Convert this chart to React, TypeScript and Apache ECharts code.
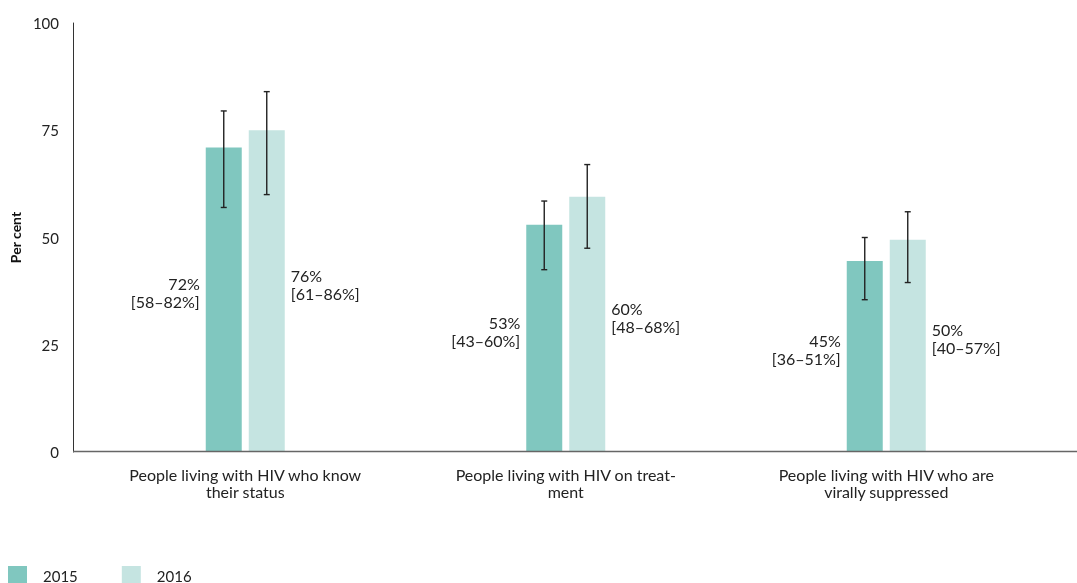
import React, { useEffect, useRef } from "react";
import * as echarts from "echarts";

const categories = [
  "People living with HIV who know\ntheir status",
  "People living with HIV on treat-\nment",
  "People living with HIV who are\nvirally suppressed",
];
const yTicks = [0, 25, 50, 75, 100];
// bar heights as drawn
const bars2015 = [71, 53, 44.5];
const bars2016 = [75, 59.5, 49.5];
// error bar ends as drawn
const err2015Low = [57, 42.5, 35.5];
const err2015High = [79.5, 58.5, 50];
const err2016Low = [60, 47.5, 39.5];
const err2016High = [84, 67, 56];
// stated values in the labels
const stated2015 = [72, 53, 45];
const statedLow2015 = [58, 43, 36];
const statedHigh2015 = [82, 60, 51];
const stated2016 = [76, 60, 50];
const statedLow2016 = [61, 48, 40];
const statedHigh2016 = [86, 68, 57];

const C2015 = "#80C7BF";
const C2016 = "#C5E4E1";
const FONT = "Lato";
const BAR_W = 36;
const BAR_GAP = 7;

export default function App() {
  const ref = useRef<HTMLDivElement>(null);
  useEffect(() => {
    if (!ref.current) return;
    const chart = echarts.init(ref.current, null, { renderer: "svg" });
    const half = (BAR_W + BAR_GAP) / 2;
    const errSeries = (lows: number[], highs: number[], shift: number) => ({
      type: "custom",
      silent: true,
      z: 10,
      data: lows.map((l, i) => [i, l, highs[i]]),
      renderItem: (params: any, api: any) => {
        const p1 = api.coord([api.value(0), api.value(1)]);
        const p2 = api.coord([api.value(0), api.value(2)]);
        const x = p1[0] + shift;
        const cap = 3;
        const style = { stroke: "#222", lineWidth: 1.4 };
        return {
          type: "group",
          children: [
            { type: "line", shape: { x1: x, y1: p1[1], x2: x, y2: p2[1] }, style },
            { type: "line", shape: { x1: x - cap, y1: p1[1], x2: x + cap, y2: p1[1] }, style },
            { type: "line", shape: { x1: x - cap, y1: p2[1], x2: x + cap, y2: p2[1] }, style },
          ],
        };
      },
    });
    const barLabel = (pos: string, vals: number[], lo: number[], hi: number[]) => ({
      show: true,
      position: pos,
      distance: 6,
      offset: [0, -7],
      align: pos === "left" ? "right" : "left",
      color: "#222",
      fontSize: 16,
      lineHeight: 18,
      fontFamily: FONT,
      formatter: (p: any) => `${vals[p.dataIndex]}%\n[${lo[p.dataIndex]}–${hi[p.dataIndex]}%]`,
    });
    chart.setOption({
      animation: false,
      textStyle: { fontFamily: FONT },
      grid: { left: 85, right: 30.5, top: 23, bottom: 131 },
      legend: {
        data: ["2015", "2016"],
        left: 8,
        top: 566,
        padding: 0,
        icon: "rect",
        itemWidth: 19,
        itemHeight: 19,
        itemGap: 44,
        textStyle: { fontSize: 15, color: "#222", fontFamily: FONT, padding: [0, 0, 0, 11] },
      },
      xAxis: {
        type: "category",
        data: categories,
        axisLine: { show: false },
        axisTick: { show: false },
        axisLabel: { color: "#222", fontSize: 16, lineHeight: 17, margin: 14, fontFamily: FONT },
      },
      yAxis: {
        type: "value",
        min: 0,
        max: 100,
        interval: 25,
        offset: 12,
        name: "Per cent",
        nameLocation: "middle",
        nameGap: 49,
        nameTextStyle: { fontWeight: "bold", fontSize: 14, color: "#111", fontFamily: FONT },
        axisLine: { show: true, lineStyle: { color: "#333", width: 1 } },
        axisTick: { show: false },
        splitLine: { show: false },
        axisLabel: {
          color: "#222",
          fontSize: 15,
          margin: 14,
          fontFamily: FONT,
          formatter: (v: number) => (yTicks.includes(v) ? String(v) : ""),
        },
      },
      graphic: [
        {
          type: "line",
          shape: { x1: 73, y1: 451.5, x2: 1077, y2: 451.5 },
          style: { stroke: "#666", lineWidth: 1.5 },
          z: 100,
        },
      ],
      series: [
        {
          name: "2015",
          type: "bar",
          data: bars2015,
          barWidth: BAR_W,
          barGap: `${(BAR_GAP / BAR_W) * 100}%`,
          itemStyle: { color: C2015 },
          label: barLabel("left", stated2015, statedLow2015, statedHigh2015),
        },
        {
          name: "2016",
          type: "bar",
          data: bars2016,
          barWidth: BAR_W,
          itemStyle: { color: C2016 },
          label: barLabel("right", stated2016, statedLow2016, statedHigh2016),
        },
        errSeries(err2015Low, err2015High, -half),
        errSeries(err2016Low, err2016High, half),
      ],
    });
    return () => chart.dispose();
  }, []);
  return (
    <div
      ref={ref}
      style={{ position: "fixed", left: 0, top: 0, width: 1077, height: 583 }}
    />
  );
}
